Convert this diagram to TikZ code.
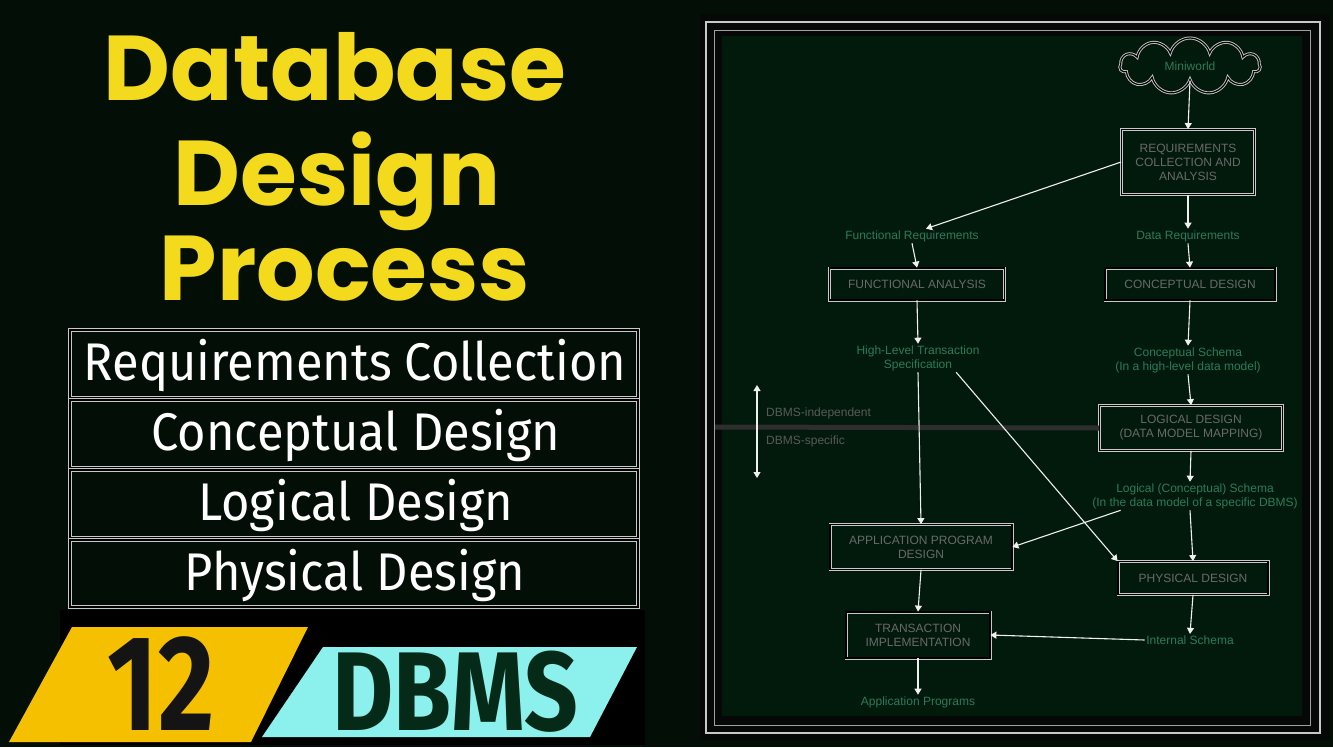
\documentclass[tikz,border=0pt]{standalone}
\usepackage{fontspec}
\setmainfont{Liberation Sans}
\newfontfamily\titlefont{Poppins}
\newfontfamily\boxfont{Fira Sans}
\usetikzlibrary{arrows.meta,shapes.symbols}
\definecolor{bgc}{HTML}{030E06}
\definecolor{panelc}{HTML}{060807}
\definecolor{innerc}{HTML}{021A0B}
\definecolor{titley}{HTML}{F3DA1C}
\definecolor{lblc}{HTML}{2C7A5C}
\definecolor{boxtxt}{HTML}{6A6A6A}
\definecolor{dimtxt}{HTML}{5A5A5A}
\definecolor{divc}{HTML}{2E2E2E}
\definecolor{framec}{HTML}{C8C8C8}
\definecolor{arrc}{HTML}{F0F0F0}
\definecolor{bandy}{HTML}{F5C000}
\definecolor{bandc}{HTML}{8CF0EC}
\definecolor{dbmsc}{HTML}{062A18}
\definecolor{numc}{HTML}{141414}
\tikzset{
  titletxt/.style={font=\titlefont\bfseries\fontsize{92}{92}\selectfont, text=titley, anchor=base, inner sep=0pt},
  phasebox/.style={draw=framec, line width=1.6pt, double=black, double distance=1.6pt},
  phasetxt/.style={font=\boxfont\fontsize{53}{53}\selectfont, text=white, anchor=base, inner sep=0pt},
  dbox/.style={draw=framec, line width=0.8pt, double=black, double distance=1.4pt, align=center,
     font=\fontsize{12}{14}\selectfont, text=boxtxt, inner sep=2pt},
  dlabel/.style={align=center, font=\fontsize{12}{14}\selectfont, text=lblc, inner sep=1.5pt},
  sidetxt/.style={anchor=west, font=\fontsize{12}{14}\selectfont, text=dimtxt, inner sep=1pt},
  darrow/.style={draw=arrc, line width=1.1pt, -{Triangle[width=7pt,length=6pt]}},
}
\begin{document}
\begin{tikzpicture}[x=1pt,y=-1pt]
\useasboundingbox (0,0) rectangle (1333,747);
\fill[bgc] (0,0) rectangle (1333,747);

% ---------- left title ----------
\node[titletxt] (t1) at (335,100) {Database};
\node[titletxt] (t2) at (337,205) {Design};
\node[titletxt] (t3) at (345,300) {Process};

% ---------- phase boxes ----------
\draw[phasebox] (70,330) rectangle (638,398);
\draw[phasebox] (70,400) rectangle (638,468);
\draw[phasebox] (70,470) rectangle (638,538);
\draw[phasebox] (70,540) rectangle (638,607);
\node[phasetxt] (p1) at (355,380) {\scalebox{0.92}[1]{Requirements Collection}};
\node[phasetxt] (p2) at (356,450) {\scalebox{0.92}[1]{Conceptual Design}};
\node[phasetxt] (p3) at (356,520) {\scalebox{0.92}[1]{Logical Design}};
\node[phasetxt] (p4) at (355,590) {\scalebox{0.92}[1]{Physical Design}};

% ---------- banner ----------
\fill[black] (60,610) rectangle (645,745);
\fill[bandy] (72,627) -- (308,627) -- (251,742) -- (9,742) -- cycle;
\fill[bandc] (323,647) -- (637,647) -- (590,737) -- (262,737) -- cycle;
\node[font=\boxfont\bfseries\fontsize{136}{136}\selectfont, text=numc, anchor=base, inner sep=0pt] (n12) at (161,730) {\scalebox{0.8}[1]{12}};
\node[font=\boxfont\bfseries\fontsize{112}{112}\selectfont, text=dbmsc, anchor=base, inner sep=0pt] (ndbms) at (455,730) {\scalebox{0.84}[1]{DBMS}};

% ---------- right panel ----------
\fill[panelc] (700,14) rectangle (1330,740);
\fill[innerc] (722,36) rectangle (1302,716);
\draw[framec, line width=2pt] (706,22) rectangle (1320,733);
\draw[framec!80!black, line width=1pt] (714,30) rectangle (1310,725);

% divider and DBMS-independent / specific
\coordinate (divL) at (715,427);
\coordinate (dupT) at (757,385);
\coordinate (dupB) at (757,478);

\node[draw=framec, line width=0.9pt, double=black, double distance=1.2pt, cloud, cloud puffs=11, aspect=2.4,
      minimum width=140, minimum height=56, font=\fontsize{12}{14}\selectfont, text=lblc] (mini) at (1190,66) {Miniworld};

\node[dbox, minimum width=133, minimum height=65] (req) at (1188,162) {REQUIREMENTS\\COLLECTION AND\\ANALYSIS};
\node[dlabel] (freq) at (912,236) {Functional Requirements};
\node[dlabel] (dreq) at (1188,236) {Data Requirements};
\node[dbox, minimum width=175, minimum height=32] (fan) at (917,284) {FUNCTIONAL ANALYSIS};
\node[dbox, minimum width=170, minimum height=32] (cdes) at (1190,284) {CONCEPTUAL DESIGN};
\node[dlabel] (hlts) at (918,358) {High-Level Transaction\\Specification};
\node[dlabel] (csch) at (1188,360) {Conceptual Schema\\(In a high-level data model)};
\node[dbox, minimum width=183, minimum height=45] (ldes) at (1191,428) {LOGICAL DESIGN\\(DATA MODEL MAPPING)};
\node[dlabel] (lsch) at (1195,496) {Logical (Conceptual) Schema\\(In the data model of a specific DBMS)};
\node[dbox, minimum width=150, minimum height=33] (pdes) at (1193,578) {PHYSICAL DESIGN};
\node[dlabel] (isch) at (1190,640) {Internal Schema};
\node[dbox, minimum width=182, minimum height=45] (apd) at (921,547) {APPLICATION PROGRAM\\DESIGN};
\node[dbox, minimum width=144, minimum height=46] (ti) at (918,635) {TRANSACTION\\IMPLEMENTATION};
\node[dlabel] (ap) at (918,702) {Application Programs};

\draw[draw=divc, line width=5pt] (divL) -- (ldes.west);
\node[sidetxt] (dbi) at (765,413) {DBMS-independent};
\node[sidetxt] (dbs) at (765,441) {DBMS-specific};
\draw[draw=arrc, line width=1.1pt, {Triangle[width=7pt,length=6pt]}-{Triangle[width=7pt,length=6pt]}] (dupT) -- (dupB);

% connectors
\draw[darrow] (mini.south) -- (req.north);
\draw[darrow] (req.west) -- ([xshift=14pt]freq.north);
\draw[darrow] (req.south) -- (dreq.north);
\draw[darrow] (freq.south) -- (fan.north);
\draw[darrow] (dreq.south) -- (cdes.north);
\draw[darrow] (fan.south) -- (hlts.north);
\draw[darrow] (cdes.south) -- (csch.north);
\draw[darrow] (csch.south) -- (ldes.north);
\draw[darrow] (ldes.south) -- ([xshift=-5pt]lsch.north);
\draw[darrow] ([xshift=-5pt]lsch.south) -- (pdes.north);
\draw[darrow] (pdes.south) -- (isch.north);
\draw[darrow] (hlts.south) -- (apd.north);
\draw[darrow] (apd.south) -- (ti.north);
\draw[darrow] (ti.south) -- (ap.north);
\draw[darrow] (isch.west) -- (ti.east);
\draw[darrow] ([xshift=-25pt]hlts.south east) -- (pdes.north west);
\draw[darrow] ([xshift=30pt]lsch.south west) -- (apd.east);
\end{tikzpicture}
\end{document}
